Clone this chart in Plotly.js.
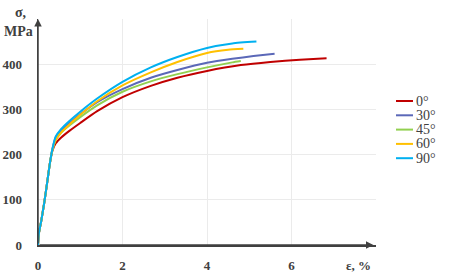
<!DOCTYPE html>
<html>
<head>
<meta charset="utf-8">
<script src="https://cdn.plot.ly/plotly-3.0.1.min.js"></script>
<style>html,body{margin:0;padding:0;background:#fff;}#chart{width:451px;height:274px;}</style>
</head>
<body>
<div id="chart"></div>
<script>
// Series names and colours
var seriesNames = ["0°", "30°", "45°", "60°", "90°"];
var seriesColors = ["#C00000", "#5B68B8", "#92D050", "#FFC000", "#00B0F0"];

// Strain (ε, %) and stress (σ, MPa) values
var eps0  = [0,0.02,0.08,0.15,0.22,0.28,0.34,0.42,0.55,0.75,1.0,1.4,2.0,2.67,3.3,4.0,4.8,5.5,6.2,6.83];
var sig0  = [0,25,55,95,140,180,208,225,238,253,270,296,327,352,370,385,398,405,410,413];

var eps30 = [0,0.02,0.08,0.15,0.22,0.28,0.34,0.42,0.55,0.75,1.0,1.4,2.0,2.67,3.3,4.0,4.6,5.1,5.6];
var sig30 = [0,25,55,95,140,180,212,238,254,270,289,316,345,370,387,403,412,418,423];

var eps45 = [0,0.02,0.08,0.15,0.22,0.28,0.34,0.42,0.55,0.75,1.0,1.4,2.0,2.67,3.3,4.0,4.6,4.8];
var sig45 = [0,25,55,95,140,180,210,233,249,265,283,309,339,362,378,393,404,407];

var eps60 = [0,0.02,0.08,0.15,0.22,0.28,0.34,0.42,0.55,0.75,1.0,1.4,2.0,2.67,3.3,4.0,4.5,4.86];
var sig60 = [0,25,55,95,140,180,210,232,249,267,288,318,353,382,405,425,432,434];

var eps90 = [0,0.02,0.08,0.15,0.22,0.28,0.34,0.42,0.55,0.75,1.0,1.4,2.0,2.67,3.3,4.0,4.6,5.17];
var sig90 = [0,25,55,95,140,180,212,240,257,275,295,324,361,393,416,436,446,450];

// Tick labels
var xTickVals = [0,2,4,6,8];
var xTickText = ["0","2","4","6",""];
var yTickVals = [0,100,200,300,400,500];
var yTickText = ["0","100","200","300","400",""];

var xs = [eps0, eps30, eps45, eps60, eps90];
var ys = [sig0, sig30, sig45, sig60, sig90];

var traces = [];
for (var i = 0; i < xs.length; i++) {
  traces.push({
    x: xs[i], y: ys[i], type: "scatter", mode: "lines",
    name: seriesNames[i], showlegend: false,
    line: {color: seriesColors[i], width: 2, shape: "spline", smoothing: 0.5}
  });
}

var W = 451, H = 274, L = 38, R = 75, T = 19, B = 29;
var pw = W - L - R, ph = H - T - B;
function px2x(px) { return (px - L) / pw; }
function py2y(py) { return 1 - (py - T) / ph; }

var serif = "Liberation Serif, DejaVu Serif, serif";
var shapes = [];
var annotations = [];

// Axis arrows
annotations.push({x: 7.94, y: 0, ax: 0, ay: 0, xref: "x", yref: "y", axref: "x", ayref: "y",
  showarrow: true, arrowhead: 2, arrowsize: 1, arrowwidth: 1.5, arrowcolor: "#404040", text: ""});
annotations.push({x: 0, y: 500, ax: 0, ay: 0, xref: "x", yref: "y", axref: "x", ayref: "y",
  showarrow: true, arrowhead: 2, arrowsize: 1, arrowwidth: 1.5, arrowcolor: "#404040", text: ""});

// Axis titles
annotations.push({x: px2x(20), y: py2y(12), xref: "paper", yref: "paper", text: "<b>σ,</b>",
  showarrow: false, font: {family: serif, size: 14, color: "#404040"}, xanchor: "center", yanchor: "middle"});
annotations.push({x: px2x(18), y: py2y(32), xref: "paper", yref: "paper", text: "<b>MPa</b>",
  showarrow: false, font: {family: serif, size: 14, color: "#404040"}, xanchor: "center", yanchor: "middle"});
annotations.push({x: px2x(358), y: py2y(265), xref: "paper", yref: "paper", text: "<b>ε, %</b>",
  showarrow: false, font: {family: serif, size: 13, color: "#404040"}, xanchor: "center", yanchor: "middle"});

// Legend (drawn manually for compact spacing)
for (var k = 0; k < seriesNames.length; k++) {
  var cy = 101 + k * 14.3;
  shapes.push({type: "line", xref: "paper", yref: "paper",
    x0: px2x(396), x1: px2x(413), y0: py2y(cy), y1: py2y(cy),
    line: {color: seriesColors[k], width: 2}});
  annotations.push({x: px2x(414), y: py2y(cy), xref: "paper", yref: "paper", text: seriesNames[k],
    showarrow: false, xanchor: "left", yanchor: "middle",
    font: {family: serif, size: 14, color: "#404040"}});
}

var layout = {
  width: W, height: H,
  margin: {l: L, r: R, t: T, b: B, pad: 0},
  paper_bgcolor: "#fff", plot_bgcolor: "#fff",
  showlegend: false,
  font: {family: serif},
  xaxis: {range: [0, 8], tickvals: xTickVals, ticktext: xTickText,
    showgrid: true, gridcolor: "#EBEBEB", gridwidth: 1, zeroline: false,
    showline: true, linecolor: "#404040", linewidth: 1.5,
    ticks: "", ticklabelstandoff: 8,
    tickfont: {family: serif, size: 13, color: "#404040", weight: "bold"}},
  yaxis: {range: [0, 500], tickvals: yTickVals, ticktext: yTickText,
    showgrid: true, gridcolor: "#EBEBEB", gridwidth: 1, zeroline: false,
    showline: true, linecolor: "#404040", linewidth: 1.5,
    ticks: "", ticklabelstandoff: 12,
    tickfont: {family: serif, size: 13, color: "#404040", weight: "bold"}},
  shapes: shapes,
  annotations: annotations
};

Plotly.newPlot("chart", traces, layout, {displayModeBar: false, staticPlot: true});
</script>
</body>
</html>
